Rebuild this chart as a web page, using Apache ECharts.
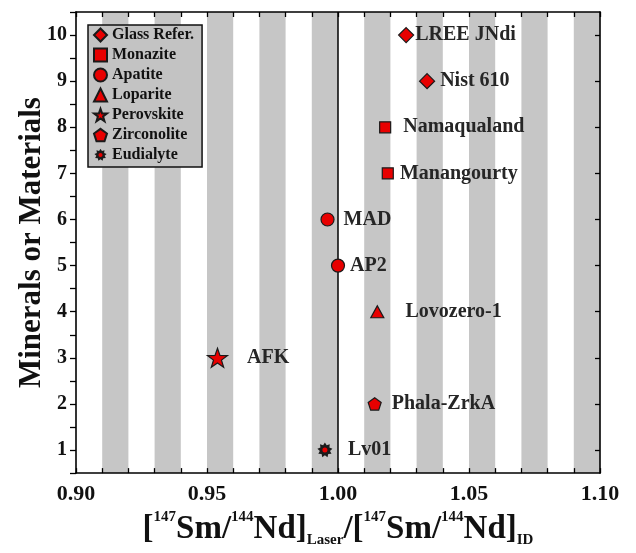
<!DOCTYPE html>
<html>
<head>
<meta charset="utf-8">
<script src="https://cdn.jsdelivr.net/npm/echarts@6/dist/echarts.min.js"></script>
<style>
  html, body { margin: 0; padding: 0; background: #fff; }
  #chart { width: 636px; height: 553px; }
</style>
</head>
<body>
<div id="chart"></div>
<script>
// Samples, their measured laser / isotope-dilution 147Sm/144Nd ratio and row position
const sampleNames = ['LREE JNdi', 'Nist 610', 'Namaqualand', 'Manangourty', 'MAD', 'AP2', 'Lovozero-1', 'AFK', 'Phala-ZrkA', 'Lv01'];
const smNdRatio   = [1.026, 1.034, 1.018, 1.019, 0.996, 1.000, 1.015, 0.954, 1.014, 0.995];
const sampleRow   = [10, 9, 8, 7, 6, 5, 4, 3, 2, 1];
const sampleGroup = ['Glass Refer.', 'Glass Refer.', 'Monazite', 'Monazite', 'Apatite', 'Apatite', 'Loparite', 'Perovskite', 'Zirconolite', 'Eudialyte'];
const groupNames  = ['Glass Refer.', 'Monazite', 'Apatite', 'Loparite', 'Perovskite', 'Zirconolite', 'Eudialyte'];
const xTickLabels = ['0.90', '0.95', '1.00', '1.05', '1.10'];
const yTickLabels = [1, 2, 3, 4, 5, 6, 7, 8, 9, 10];
const referenceRatio = 1.0;

const FONT = '"Liberation Serif", "Times New Roman", serif';
const RED = '#e80000';
const EDGE = '#1a1a1a';

// Star / polygon outlines used as marker shapes
function polygonPath(n, rOut, rIn) {
  const pts = [];
  const steps = rIn ? n * 2 : n;
  for (let i = 0; i < steps; i++) {
    const r = rIn && i % 2 === 1 ? rIn : rOut;
    const a = -Math.PI / 2 + i * Math.PI * 2 / steps;
    pts.push((r * Math.cos(a)).toFixed(3) + ' ' + (r * Math.sin(a)).toFixed(3));
  }
  return 'path://M' + pts.join(' L') + ' Z';
}

// Dark burst with a red core for the eudialyte marker
function burstImage() {
  const pts = [];
  const n = 9;
  for (let i = 0; i < n * 2; i++) {
    const r = i % 2 === 0 ? 10 : 6.8;
    const a = -Math.PI / 2 + i * Math.PI / n;
    pts.push((r * Math.cos(a)).toFixed(2) + ',' + (r * Math.sin(a)).toFixed(2));
  }
  const svg = '<svg xmlns="http://www.w3.org/2000/svg" width="40" height="40" viewBox="-10.5 -10.5 21 21">' +
    '<polygon points="' + pts.join(' ') + '" fill="#1c1c1c"/>' +
    '<circle cx="0" cy="0" r="3.3" fill="' + RED + '"/></svg>';
  return 'image://data:image/svg+xml;charset=utf-8,' + encodeURIComponent(svg);
}

const groupMarker = {
  'Glass Refer.': { symbol: 'diamond', size: [15, 15] },
  'Monazite':     { symbol: 'rect', size: [11, 11] },
  'Apatite':      { symbol: 'circle', size: [13, 13] },
  'Loparite':     { symbol: 'triangle', size: [13, 12] },
  'Perovskite':   { symbol: polygonPath(5, 10, 4), size: [20, 20] },
  'Zirconolite':  { symbol: polygonPath(5, 10), size: [13, 13] },
  'Eudialyte':    { symbol: burstImage(), size: [16, 16] }
};

// Space between each marker and its text label
const labelGap = {
  'LREE JNdi': 1, 'Nist 610': 5, 'Namaqualand': 12, 'Manangourty': 6, 'MAD': 9,
  'AP2': 5, 'Lovozero-1': 21, 'AFK': 19, 'Phala-ZrkA': 10, 'Lv01': 15
};

const scatterSeries = groupNames.map(function (g) {
  const data = [];
  sampleNames.forEach(function (name, i) {
    if (sampleGroup[i] === g) {
      data.push({ name: name, value: [smNdRatio[i], sampleRow[i]], label: { distance: labelGap[name] } });
    }
  });
  return {
    name: g,
    type: 'scatter',
    symbol: groupMarker[g].symbol,
    symbolSize: groupMarker[g].size,
    symbolKeepAspect: true,
    z: 5,
    itemStyle: { color: RED, borderColor: EDGE, borderWidth: 1.2, opacity: 1 },
    label: {
      show: true, position: 'right', formatter: function (p) { return p.name; },
      fontFamily: FONT, fontWeight: 'bold', fontSize: 20, color: '#262626'
    },
    emphasis: { disabled: true },
    data: data
  };
});

// Vertical reference line at ratio 1
const refLineSeries = {
  name: 'reference',
  type: 'scatter',
  data: [],
  z: 2,
  markLine: {
    silent: true, symbol: 'none', animation: false,
    label: { show: false },
    lineStyle: { color: '#000', width: 1.5, type: 'solid' },
    data: [{ xAxis: referenceRatio }]
  }
};

const axisLineStyle = { lineStyle: { color: '#000', width: 1.6 } };
const tickFont = { fontFamily: FONT, fontWeight: 'bold', color: '#111' };

const option = {
  animation: false,
  backgroundColor: '#fff',
  grid: { left: 76, right: 36, top: 12, bottom: 68, containLabel: false },
  legend: {
    data: groupNames,
    orient: 'vertical',
    left: 88, top: 25,
    backgroundColor: '#c3c3c3',
    borderColor: '#111', borderWidth: 1.5,
    padding: [2, 8, 4, 5],
    itemGap: 4, itemWidth: 13, itemHeight: 13,
    selectedMode: false,
    textStyle: { fontFamily: FONT, fontWeight: 'bold', fontSize: 16, color: '#111' }
  },
  xAxis: [
    {
      type: 'value', position: 'bottom', min: 0.9, max: 1.1, interval: 0.01,
      axisLine: axisLineStyle,
      axisTick: { inside: true, length: 5, lineStyle: { color: '#000', width: 1.3 } },
      axisLabel: Object.assign({
        fontSize: 22, margin: 10,
        formatter: function (v) { const s = v.toFixed(2); return xTickLabels.indexOf(s) >= 0 ? s : ''; }
      }, tickFont),
      splitLine: { show: false },
      splitArea: { show: true, areaStyle: { color: ['rgba(255,255,255,0)', '#c6c6c6'] } },
      name: '{b|[}{sp|147}{b|Sm/}{sp|144}{b|Nd]}{sb|Laser}{b|/[}{sp|147}{b|Sm/}{sp|144}{b|Nd]}{sb|ID}',
      nameLocation: 'middle', nameGap: 21,
      nameTextStyle: {
        color: '#111',
        rich: {
          b:  { fontFamily: FONT, fontWeight: 'bold', fontSize: 33, lineHeight: 38, color: '#111' },
          sp: { fontFamily: FONT, fontWeight: 'bold', fontSize: 15, lineHeight: 15, verticalAlign: 'top', color: '#111' },
          sb: { fontFamily: FONT, fontWeight: 'bold', fontSize: 15, lineHeight: 15, verticalAlign: 'bottom', color: '#111' }
        }
      }
    },
    {
      type: 'value', position: 'top', min: 0.9, max: 1.1, interval: 0.01,
      axisLine: axisLineStyle,
      axisTick: { inside: true, length: 5, lineStyle: { color: '#000', width: 1.3 } },
      axisLabel: { show: false },
      splitLine: { show: false }
    }
  ],
  yAxis: [
    {
      type: 'value', position: 'left', min: 0.5, max: 10.5, interval: 0.5,
      axisLine: axisLineStyle,
      axisTick: { inside: false, length: 6, lineStyle: { color: '#000', width: 1.3 } },
      axisLabel: Object.assign({
        fontSize: 20, margin: 9,
        formatter: function (v) { return yTickLabels.indexOf(v) >= 0 ? String(v) : ''; }
      }, tickFont),
      splitLine: { show: false },
      name: 'Minerals or Materials',
      nameLocation: 'middle', nameGap: 29, nameMoveOverlap: false,
      nameTextStyle: { fontFamily: FONT, fontWeight: 'bold', fontSize: 31, color: '#111' }
    },
    {
      type: 'value', position: 'right', min: 0.5, max: 10.5,
      axisLine: axisLineStyle,
      axisTick: { inside: true, length: 5, customValues: yTickLabels, lineStyle: { color: '#000', width: 1.3 } },
      axisLabel: { show: false, customValues: yTickLabels },
      splitLine: { show: false }
    }
  ],
  series: [refLineSeries].concat(scatterSeries)
};

const chart = echarts.init(document.getElementById('chart'), null, { renderer: 'canvas' });
chart.setOption(option);
</script>
</body>
</html>
